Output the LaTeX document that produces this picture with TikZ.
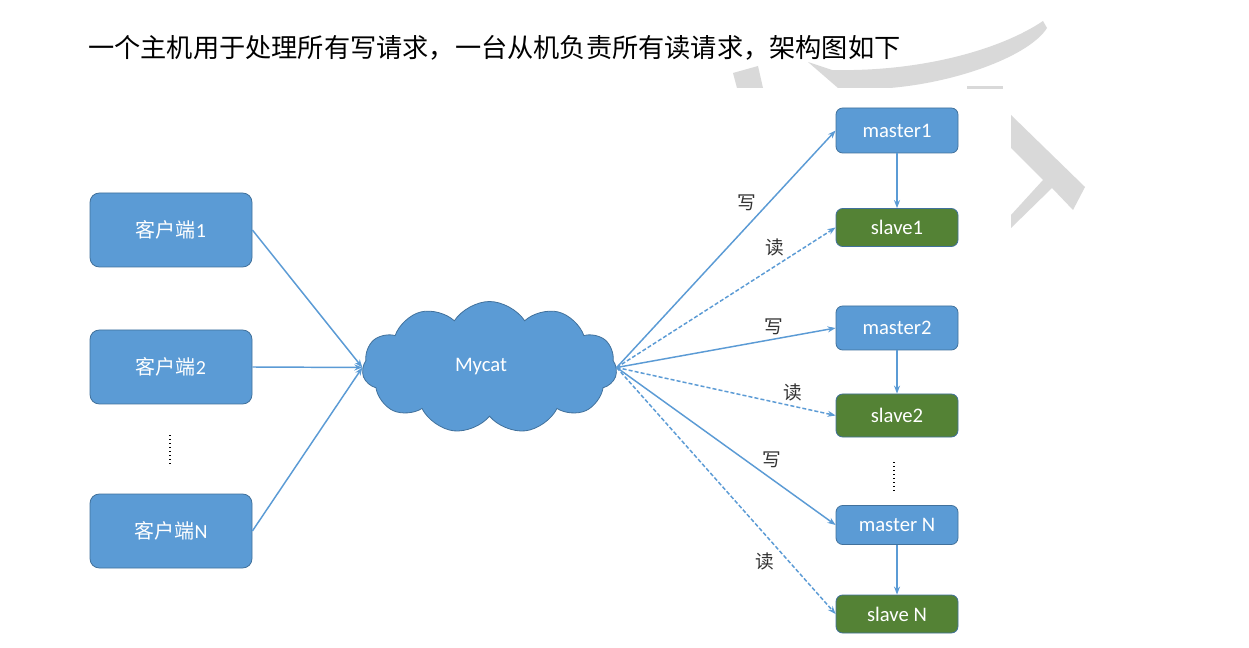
\documentclass[tikz,border=0pt]{standalone}
\usepackage{fontspec}
\setmainfont{Carlito}
\newfontfamily\cjk{Noto Sans CJK SC}
\usetikzlibrary{shapes.symbols,arrows.meta}
\definecolor{boxblue}{HTML}{5B9BD5}
\definecolor{boxedge}{HTML}{41719C}
\definecolor{boxgreen}{HTML}{548235}
\definecolor{wmgray}{HTML}{D9D9D9}
\tikzset{
  cbox/.style={draw=boxedge, line width=0.6pt, fill=boxblue, rounded corners=7pt,
    minimum width=121.5pt, minimum height=55.5pt, text=white, font=\fontsize{15}{17}\selectfont},
  mbox/.style={draw=boxedge, line width=0.6pt, fill=boxblue, rounded corners=5pt,
    minimum width=91.5pt, text=white, font=\fontsize{15.5}{17}\selectfont},
  sbox/.style={mbox, fill=boxgreen},
  conn/.style={draw=boxblue, line width=1.1pt, -{Stealth[length=6pt,width=4.5pt]}},
  rd/.style={conn, dash pattern=on 3pt off 1.6pt},
  lbl/.style={font=\cjk\fontsize{14}{16}\selectfont, text=black!80},
  vdots/.style={line width=1.4pt, dash pattern=on 1.1pt off 1.9pt}
}
\begin{document}
\begin{tikzpicture}[x=0.75pt,y=-0.75pt]
\useasboundingbox (0,0) rectangle (1249,648);
\fill[white] (0,0) rectangle (1249,648);
% watermark
\fill[wmgray] (733,73) -- (758,66) -- (763,88) -- (737,88) -- cycle;
\fill[wmgray] (808,62) -- (832,70) .. controls (920,72) and (1000,50) .. (1043,21)
  -- (1047,28) .. controls (1030,55) and (960,82) .. (890,88) -- (838,88) -- cycle;
\fill[wmgray] (967,86) rectangle (1003,89);
\fill[wmgray] (1011,115) -- (1085,187) -- (1073,210) -- (1052,188) -- (1011,228)
  -- (1011,215) -- (1043,180) -- (1011,148) -- cycle;
% title
\node[anchor=west, inner sep=0pt, font=\cjk\fontsize{19.65}{24}\selectfont] (title) at (88,48)
  {一个主机用于处理所有写请求，一台从机负责所有读请求，架构图如下};
% clients
\node[cbox] (c1) at (171,230) {{\cjk 客户端}1};
\node[cbox] (c2) at (171,367) {{\cjk 客户端}2};
\node[cbox] (cN) at (171,531) {{\cjk 客户端}N};
\coordinate (ld1) at (170,435);
\coordinate (ld2) at (170,466);
\draw[vdots] (ld1) -- (ld2);
% cloud
\node[cloud, cloud puffs=11, cloud puff arc=115, aspect=2.1, draw=boxedge, line width=0.6pt,
  fill=boxblue, minimum width=191pt, minimum height=99pt, inner sep=0pt] (mycat) at (489.5,367.5) {};
\node[text=white, font=\fontsize{15.5}{17}\selectfont] (mycatlbl) at (481,367) {Mycat};
% servers
\node[mbox, minimum height=33.75pt] (m1) at (897,130.5) {master1};
\node[sbox, minimum height=28.5pt] (s1) at (897,227.5) {slave1};
\node[mbox, minimum height=33pt] (m2) at (897,328) {master2};
\node[sbox, minimum height=32.25pt] (s2) at (897,415.5) {slave2};
\node[mbox, minimum height=29.25pt] (mN) at (897,525) {master N};
\node[sbox, minimum height=28.5pt] (sN) at (897,614) {slave N};
\coordinate (rd1) at (894,462);
\coordinate (rd2) at (894,492);
\draw[vdots] (rd1) -- (rd2);
% client arrows
\draw[conn] (c1.east) -- (mycat.west);
\draw[conn] (c2.east) -- (mycat.west);
\draw[conn] (cN.east) -- (mycat.west);
% master -> slave
\draw[conn] (m1) -- (s1);
\draw[conn] (m2) -- (s2);
\draw[conn] (mN) -- (sN);
% write / read
\draw[conn] (mycat.east) -- (m1.west);
\draw[rd] (mycat.east) -- (s1.west);
\draw[conn] (mycat.east) -- (m2.west);
\draw[rd] (mycat.east) -- (s2.west);
\draw[conn] (mycat.east) -- (mN.west);
\draw[rd] (mycat.east) -- (sN.west);
% labels
\node[lbl] (w1) at (747,203) {写};
\node[lbl] (r1) at (775,247) {读};
\node[lbl] (w2) at (774,327) {写};
\node[lbl] (r2) at (793,392) {读};
\node[lbl] (w3) at (772,460) {写};
\node[lbl] (r3) at (765,561) {读};
\end{tikzpicture}
\end{document}
